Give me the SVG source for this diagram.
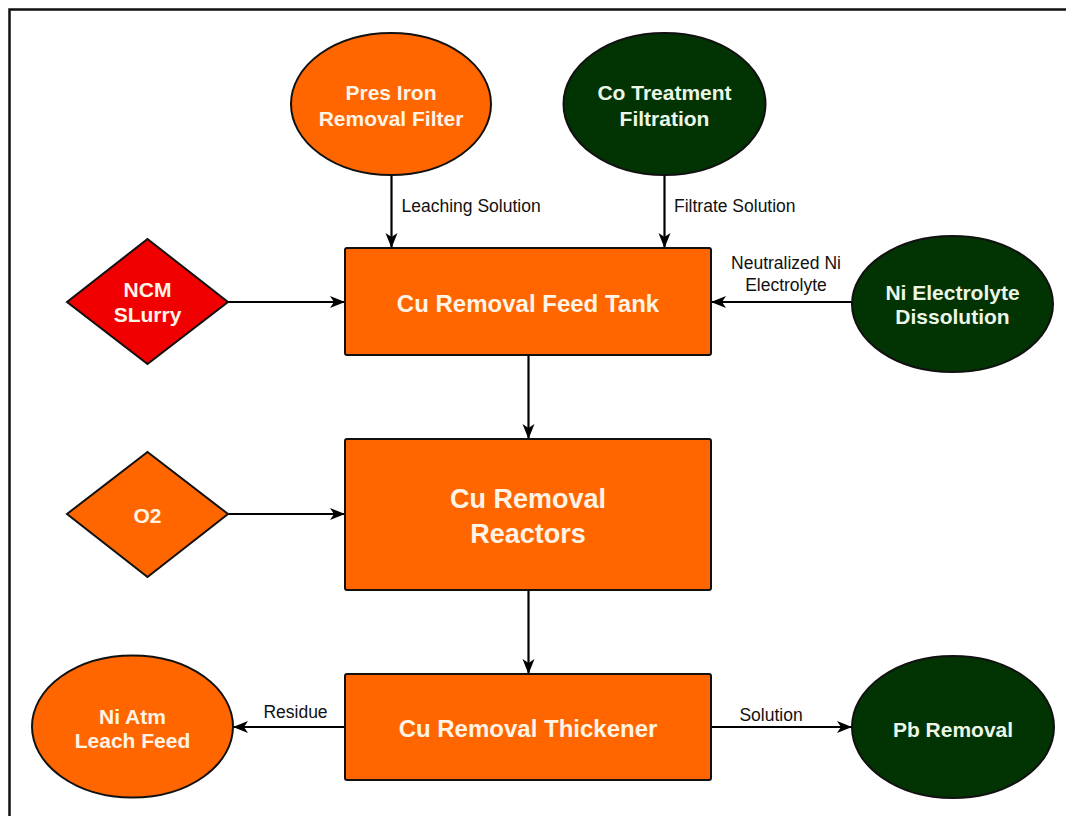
<svg xmlns="http://www.w3.org/2000/svg" width="1066" height="816" viewBox="0 0 1066 816">
  <defs>
    <marker id="arrow" markerUnits="userSpaceOnUse" markerWidth="16" markerHeight="13" refX="15" refY="6.5" orient="auto">
      <path d="M0,0.5 L15,6.5 L0,12.5 L4,6.5 Z" fill="#000"/>
    </marker>
    <style>
      .orange { fill: #FF6600; stroke: #111; stroke-width: 2; }
      .green { fill: #023302; stroke: #111; stroke-width: 2; }
      .red { fill: #F00000; stroke: #111; stroke-width: 2; }
      .edge { fill: none; stroke: #000; stroke-width: 2.2; marker-end: url(#arrow); }
      text { font-family: "Liberation Sans", Arial, Helvetica, sans-serif; text-anchor: middle; }
      .t-orange { fill: #FFF4E6; font-weight: bold; font-size: 21px; }
      .t-green { fill: #ECF6E6; font-weight: bold; font-size: 21px; }
      .t-box { fill: #FFF4E6; font-weight: bold; font-size: 24px; }
      .t-big { fill: #FFF4E6; font-weight: bold; font-size: 27px; }
      .lbl { fill: #111; font-size: 17.5px; }
    </style>
  </defs>

  <rect width="1066" height="816" fill="#fff"/>
  <!-- frame -->
  <rect x="9.5" y="9.5" width="1070" height="820" fill="none" stroke="#111" stroke-width="2.5"/>

  <g id="connectors">
    <path class="edge" d="M391.5,175 V248"/>
    <path class="edge" d="M664.5,175 V248"/>
    <path class="edge" d="M228,302 H345"/>
    <path class="edge" d="M852,302 H711"/>
    <path class="edge" d="M528.5,355 V439"/>
    <path class="edge" d="M228,514 H345"/>
    <path class="edge" d="M528.5,590 V674"/>
    <path class="edge" d="M345,727 H233"/>
    <path class="edge" d="M711,727 H852"/>
    <text class="lbl" x="401.5" y="211.5" style="text-anchor:start">Leaching Solution</text>
    <text class="lbl" x="674" y="211.5" style="text-anchor:start">Filtrate Solution</text>
    <text class="lbl" x="786" y="269">Neutralized Ni</text>
    <text class="lbl" x="786" y="291">Electrolyte</text>
    <text class="lbl" x="295.5" y="718">Residue</text>
    <text class="lbl" x="771" y="721">Solution</text>
  </g>

  <g id="pres-iron-filter">
    <ellipse class="orange" cx="391" cy="104" rx="100" ry="71"/>
    <text class="t-orange" x="391" y="100">Pres Iron</text>
    <text class="t-orange" x="391" y="125.5">Removal Filter</text>
  </g>

  <g id="co-treatment">
    <ellipse class="green" cx="664.5" cy="104" rx="101" ry="71"/>
    <text class="t-green" x="664.5" y="100">Co Treatment</text>
    <text class="t-green" x="664.5" y="126">Filtration</text>
  </g>

  <g id="ncm-slurry">
    <polygon class="red" points="147.5,239 228,302 147.5,364 67,302"/>
    <text class="t-orange" x="147.5" y="297">NCM</text>
    <text class="t-orange" x="147.5" y="322">SLurry</text>
  </g>

  <g id="feed-tank">
    <rect class="orange" x="345" y="248" width="366" height="107" rx="2"/>
    <text class="t-box" x="528" y="312">Cu Removal Feed Tank</text>
  </g>

  <g id="ni-electrolyte">
    <ellipse class="green" cx="952.5" cy="304" rx="100.5" ry="68"/>
    <text class="t-green" x="952.5" y="300">Ni Electrolyte</text>
    <text class="t-green" x="952.5" y="324">Dissolution</text>
  </g>

  <g id="o2">
    <polygon class="orange" points="147.5,452 228,514 147.5,577 67,514"/>
    <text class="t-orange" x="147.5" y="523">O2</text>
  </g>

  <g id="reactors">
    <rect class="orange" x="345" y="439" width="366" height="151" rx="2"/>
    <text class="t-big" x="528" y="508">Cu Removal</text>
    <text class="t-big" x="528" y="543">Reactors</text>
  </g>

  <g id="thickener">
    <rect class="orange" x="345" y="674" width="366" height="106" rx="2"/>
    <text class="t-box" x="528" y="737">Cu Removal Thickener</text>
  </g>

  <g id="ni-atm-leach">
    <ellipse class="orange" cx="132.5" cy="726.5" rx="100.5" ry="71"/>
    <text class="t-orange" x="132.5" y="723.5">Ni Atm</text>
    <text class="t-orange" x="132.5" y="747.5">Leach Feed</text>
  </g>

  <g id="pb-removal">
    <ellipse class="green" cx="953" cy="727" rx="101" ry="71"/>
    <text class="t-green" x="953" y="736.5">Pb Removal</text>
  </g>
</svg>
